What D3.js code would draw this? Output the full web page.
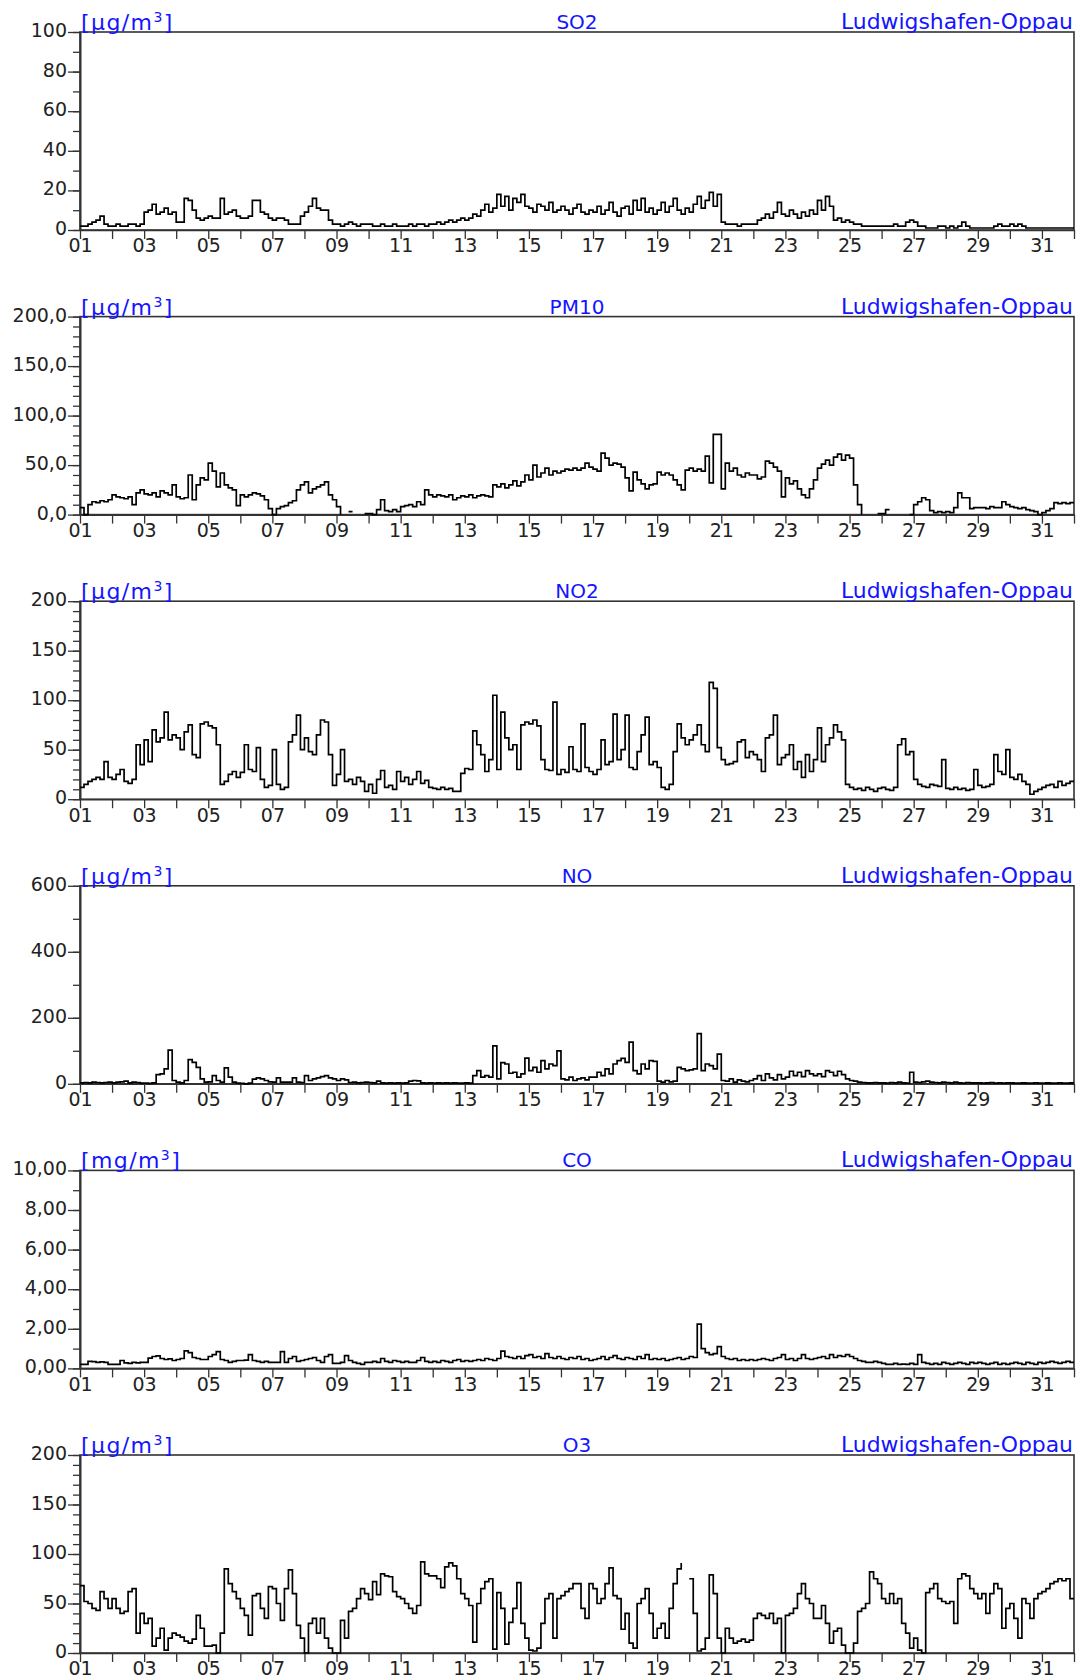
<!DOCTYPE html>
<html>
<head>
<meta charset="utf-8">
<script src="https://cdn.jsdelivr.net/npm/d3@7"></script>
<style>
body { margin: 0; background: #fff; }
</style>
</head>
<body>
<div id="chart"></div>
<script>
// x tick labels (days of month)
var days = ["01","02","03","04","05","06","07","08","09","10","11","12","13","14","15","16",
            "17","18","19","20","21","22","23","24","25","26","27","28","29","30","31"];
var station = "Ludwigshafen-Oppau";
var components = ["SO2", "PM10", "NO2", "NO", "CO", "O3"];
var units = ["µg/m", "µg/m", "µg/m", "µg/m", "mg/m", "µg/m"];
var yMax = [100, 200, 200, 600, 10, 200];
var yMajor = [20, 50, 50, 200, 2, 50];
var yMinor = [10, 10, 10, 100, 1, 10];
var yDecimals = [0, 1, 0, 0, 2, 0];

// 3-hourly values, one row per day
var so2 = [
  [2,2,3,4,5,7,3,2],[2,3,2,2,3,3,2,3],[9,10,13,8,9,11,8,9],[4,4,16,15,10,6,5,6],
  [7,6,6,16,8,9,10,7],[6,6,7,15,15,9,8,6],[5,6,6,5,3,3,3,7],[9,12,16,11,10,10,5,3],
  [3,2,3,4,3,2,3,3],[3,2,2,3,2,2,3,2],[2,2,3,2,3,3,2,3],[3,4,3,4,5,4,5,6],
  [5,6,8,7,10,13,9,11],[18,12,17,10,16,14,18,12],[11,9,13,12,10,14,9,10],[12,10,8,11,13,9,8,10],
  [9,12,8,10,14,9,7,11],[12,8,15,10,16,9,11,8],[10,14,9,12,16,10,8,11],[9,13,17,11,15,19,12,18],
  [4,3,3,3,2,3,3,3],[3,5,6,8,6,9,14,8],[7,10,8,6,9,7,10,8],[15,10,17,12,5,6,4,5],
  [4,3,3,2,2,2,2,2],[2,2,2,3,2,2,4,5],[4,2,2,1,1,1,2,2],[1,2,1,2,4,2,1,1],
  [1,1,1,1,2,3,2,2],[3,2,3,2,1,1,1,1],[1,1,1,1,1,1,1,1]
];
var pm10 = [
  [7,0,10,13,12,14,13,15],[20,18,17,16,18,10,22,25],[21,20,22,18,24,22,20,30],[18,16,17,40,15,30,37,35],
  [52,44,28,42,30,27,25,9],[20,18,20,22,21,19,15,6],[0,6,8,9,12,14,25,30],[33,22,26,28,30,33,20,15],
  [8,0,null,3,3,null,null,1],[1,0,5,15,4,3,5,3],[8,9,10,8,13,10,25,20],[18,20,19,18,20,15,17,19],
  [18,20,17,19,20,19,18,30],[28,31,27,30,34,29,33,40],[35,50,38,42,47,40,44,42],[44,46,45,47,45,47,52,48],
  [46,44,62,57,50,52,51,48],[37,24,43,35,31,26,30,31],[43,40,42,40,35,30,25,45],[47,44,46,44,59,32,81,81],
  [26,52,44,47,40,38,42,40],[40,36,38,54,52,48,44,18],[37,31,34,26,20,17,26,35],[47,51,55,50,58,61,55,60],
  [57,30,10,0,null,null,null,1],[1,5,5,null,null,null,null,0],[10,13,17,15,4,2,3,2],[3,2,7,22,17,17,6,7],
  [7,7,6,8,7,7,13,10],[8,7,6,7,5,4,3,0],[2,4,6,12,11,12,11,12]
];
var no2 = [
  [12,15,18,20,22,20,38,22],[20,25,30,18,16,20,55,35],[60,38,70,58,62,88,60,65],[62,50,68,75,45,42,76,78],
  [74,72,55,15,18,25,28,22],[27,55,30,28,52,20,12,14],[50,15,10,12,58,65,85,50],[62,48,45,65,80,78,45,14],
  [25,50,18,20,15,22,18,8],[15,6,20,29,12,14,10,28],[18,22,15,20,28,16,19,12],[11,10,12,10,11,8,8,26],
  [31,30,69,55,45,28,40,105],[30,88,62,50,55,30,75,78],[76,80,74,40,30,29,98,25],[30,27,53,30,28,76,32,28],
  [25,30,60,35,38,86,40,50],[85,32,30,48,65,83,35,38],[32,12,10,15,48,76,62,55],[60,65,75,55,48,118,112,52],
  [40,35,36,38,58,60,42,48],[45,40,28,62,65,85,35,42],[45,55,30,38,22,45,28,40],[72,38,55,62,75,68,60,15],
  [12,10,11,9,12,10,8,11],[12,10,9,12,55,61,45,48],[20,15,13,12,15,14,13,40],[11,10,12,10,11,9,10,30],
  [14,12,13,15,45,28,25,50],[22,20,25,18,15,5,8,10],[12,14,15,12,18,14,16,18]
];
var no = [
  [3,4,3,5,4,3,4,5],[3,5,6,8,3,5,4,2],[2,1,3,28,30,45,102,10],[5,3,10,73,65,50,15,5],
  [6,25,10,5,48,20,5,2],[1,0,2,14,18,15,10,6],[5,18,5,5,5,18,5,4],[25,10,15,18,22,25,18,15],
  [10,15,12,4,5,3,4,5],[4,3,8,3,2,3,2,3],[2,3,8,10,9,3,2,3],[2,3,2,3,2,3,2,2],
  [3,2,25,40,20,25,20,115],[15,64,60,32,35,20,30,78],[40,50,35,70,45,60,55,100],[15,12,20,10,15,18,12,20],
  [20,35,25,45,30,60,70,77],[65,126,40,30,60,45,70,68],[8,5,10,6,8,50,45,40],[42,45,152,40,60,55,45,90],
  [10,8,15,5,12,8,6,10],[15,25,10,30,18,12,28,15],[20,38,25,35,22,40,30,25],[30,22,40,35,25,38,28,15],
  [10,8,5,4,3,3,4,3],[3,2,4,3,5,3,2,35],[5,4,6,8,5,4,3,5],[4,3,5,3,2,4,3,3],
  [3,2,3,4,2,3,2,3],[3,2,2,3,2,2,3,2],[2,3,2,2,3,2,2,3]
];
var co = [
  [0.2,0.2,0.35,0.34,0.3,0.33,0.3,0.2],[0.2,0.2,0.4,0.28,0.25,0.3,0.28,0.3],[0.3,0.52,0.6,0.63,0.5,0.45,0.48,0.4],[0.45,0.5,0.89,0.8,0.55,0.5,0.45,0.45],
  [0.6,0.7,0.85,0.45,0.4,0.3,0.35,0.4],[0.4,0.42,0.7,0.4,0.35,0.3,0.35,0.3],[0.3,0.3,0.85,0.3,0.5,0.6,0.35,0.4],[0.45,0.5,0.55,0.4,0.3,0.6,0.7,0.25],
  [0.25,0.3,0.65,0.4,0.3,0.25,0.2,0.3],[0.3,0.35,0.3,0.5,0.35,0.3,0.4,0.35],[0.3,0.35,0.3,0.3,0.4,0.55,0.35,0.3],[0.35,0.3,0.4,0.35,0.3,0.4,0.45,0.35],
  [0.4,0.35,0.4,0.45,0.4,0.5,0.45,0.4],[0.5,0.87,0.6,0.55,0.5,0.6,0.5,0.65],[0.7,0.55,0.6,0.5,0.75,0.55,0.5,0.6],[0.5,0.45,0.55,0.5,0.6,0.45,0.5,0.4],
  [0.45,0.5,0.6,0.45,0.55,0.65,0.5,0.45],[0.55,0.5,0.45,0.6,0.5,0.7,0.45,0.5],[0.45,0.5,0.4,0.45,0.5,0.55,0.45,0.5],[0.6,0.55,2.24,1.0,0.8,0.7,0.75,1.1],
  [0.6,0.5,0.45,0.5,0.4,0.45,0.4,0.45],[0.4,0.45,0.5,0.45,0.4,0.5,0.55,0.7],[0.45,0.5,0.4,0.5,0.7,0.5,0.45,0.5],[0.55,0.6,0.5,0.7,0.55,0.65,0.6,0.7],
  [0.6,0.5,0.4,0.35,0.3,0.3,0.35,0.3],[0.25,0.2,0.2,0.25,0.2,0.22,0.2,0.25],[0.2,0.7,0.3,0.25,0.2,0.25,0.2,0.3],[0.25,0.2,0.25,0.3,0.25,0.2,0.3,0.25],
  [0.3,0.25,0.2,0.25,0.3,0.2,0.25,0.2],[0.25,0.3,0.25,0.2,0.3,0.25,0.2,0.3],[0.25,0.3,0.35,0.3,0.25,0.3,0.35,0.3]
];
var o3 = [
  [68,52,50,45,43,62,55,45],[55,45,40,42,62,65,20,40],[30,35,7,15,25,3,15,20],[18,16,12,10,14,38,25,7],
  [7,8,0,20,85,70,62,55],[45,38,18,58,60,45,35,67],[65,50,33,65,84,60,28,15],[0,30,35,20,35,15,5,0],
  [0,33,15,42,45,55,65,60],[54,72,59,80,78,77,62,57],[55,50,45,40,48,92,80,78],[78,75,66,87,91,88,75,60],
  [55,48,11,50,65,72,75,4],[61,45,9,31,45,71,30,15],[3,2,5,30,55,60,15,55],[58,62,65,70,70,45,35,70],
  [65,50,55,70,86,58,55,24],[40,10,5,50,55,65,40,15],[25,30,15,45,70,85,91,null],[75,40,2,4,15,79,60,15],
  [0,25,15,10,12,14,11,13],[35,40,38,35,40,30,35,0],[38,40,45,60,70,55,50,35],[35,48,30,10,22,25,8,0],
  [0,10,42,45,50,82,75,70],[55,50,60,50,55,30,20,5],[15,3,0,61,65,70,55,52],[50,52,30,75,80,78,65,60],
  [55,60,40,60,70,65,25,45],[50,35,15,55,50,35,55,60],[62,65,70,72,75,73,75,55]
];
var series = [so2, pm10, no2, no, co, o3];

var margin = {top: 32, left: 80, right: 5},
    width = 1079 - margin.left - margin.right,
    panelHeight = 198,
    panelStep = 284.6;

var locale = d3.formatLocale({decimal: ",", thousands: ".", grouping: [3], currency: ["", ""]});

var svg = d3.select("#chart").append("svg")
    .attr("width", 1079)
    .attr("height", 1679)
    .style("font-family", "'DejaVu Sans', sans-serif");

// one day per unit, 31 days
var x = d3.scaleLinear()
    .domain([0, days.length])
    .range([margin.left, margin.left + width]);

components.forEach(function (name, i) {
    var g = svg.append("g")
        .attr("transform", "translate(0," + (margin.top + i * panelStep) + ")");

    var y = d3.scaleLinear()
        .domain([0, yMax[i]])
        .range([panelHeight, 0]);

    // minor y ticks
    g.append("g")
        .attr("class", "axis")
        .attr("transform", "translate(" + margin.left + ",0)")
        .call(d3.axisLeft(y)
            .tickValues(d3.range(0, yMax[i] + yMinor[i] / 2, yMinor[i]))
            .tickSize(7)
            .tickSizeOuter(0)
            .tickFormat(""));

    // major y ticks
    var fmt = locale.format("." + yDecimals[i] + "f");
    g.append("g")
        .attr("class", "axis")
        .attr("transform", "translate(" + margin.left + ",0)")
        .call(d3.axisLeft(y)
            .tickValues(d3.range(0, yMax[i] + yMajor[i] / 2, yMajor[i]))
            .tickSize(12)
            .tickSizeOuter(0)
            .tickPadding(1)
            .tickFormat(fmt))
        .selectAll("text")
        .attr("dy", "0.24em");

    // day ticks
    g.append("g")
        .attr("class", "axis")
        .attr("transform", "translate(0," + panelHeight + ")")
        .call(d3.axisBottom(x)
            .tickValues(d3.range(0, days.length + 1))
            .tickSize(9)
            .tickSizeOuter(0)
            .tickPadding(0)
            .tickFormat(function (t) {
                return (t % 2 === 0 && t < days.length) ? days[t] : "";
            }));

    // frame
    g.append("rect")
        .attr("x", margin.left)
        .attr("y", 0)
        .attr("width", width)
        .attr("height", panelHeight)
        .attr("fill", "none")
        .attr("stroke", "#333")
        .attr("stroke-width", 1.6);

    // measured values as a step line
    var values = d3.merge(series[i]);
    var points = values.map(function (v, k) { return {t: k / 8, v: v}; });
    points.push({t: days.length, v: values[values.length - 1]});

    var line = d3.line()
        .defined(function (d) { return d.v !== null; })
        .curve(d3.curveStepAfter)
        .x(function (d) { return x(d.t); })
        .y(function (d) { return y(d.v); });

    g.append("path")
        .datum(points)
        .attr("d", line)
        .attr("fill", "none")
        .attr("stroke", "#000")
        .attr("stroke-width", 1.7);

    // unit, component, station
    var unit = g.append("text")
        .attr("x", margin.left + 1)
        .attr("y", -2)
        .attr("fill", "#1414ff")
        .style("font-size", "22px")
        .style("letter-spacing", "1.4px");
    unit.append("tspan").text("[" + units[i]);
    unit.append("tspan").attr("dy", -8).style("font-size", "14px").text("3");
    unit.append("tspan").attr("dy", 8).text("]");

    g.append("text")
        .attr("x", 577)
        .attr("y", -3)
        .attr("text-anchor", "middle")
        .attr("fill", "#1414ff")
        .style("font-size", "20px")
        .text(name);

    g.append("text")
        .attr("x", margin.left + width - 1)
        .attr("y", -3)
        .attr("text-anchor", "end")
        .attr("fill", "#1414ff")
        .attr("textLength", 232)
        .attr("lengthAdjust", "spacingAndGlyphs")
        .style("font-size", "22px")
        .text(station);
});

svg.selectAll(".axis .domain")
    .attr("stroke", "#333")
    .attr("stroke-width", 1.6);
svg.selectAll(".axis line")
    .attr("stroke", "#333")
    .attr("stroke-width", 1.3);
svg.selectAll(".axis text")
    .attr("fill", "#222")
    .style("font-size", "19px")
    .style("font-family", "'DejaVu Sans', sans-serif");
</script>
</body>
</html>
